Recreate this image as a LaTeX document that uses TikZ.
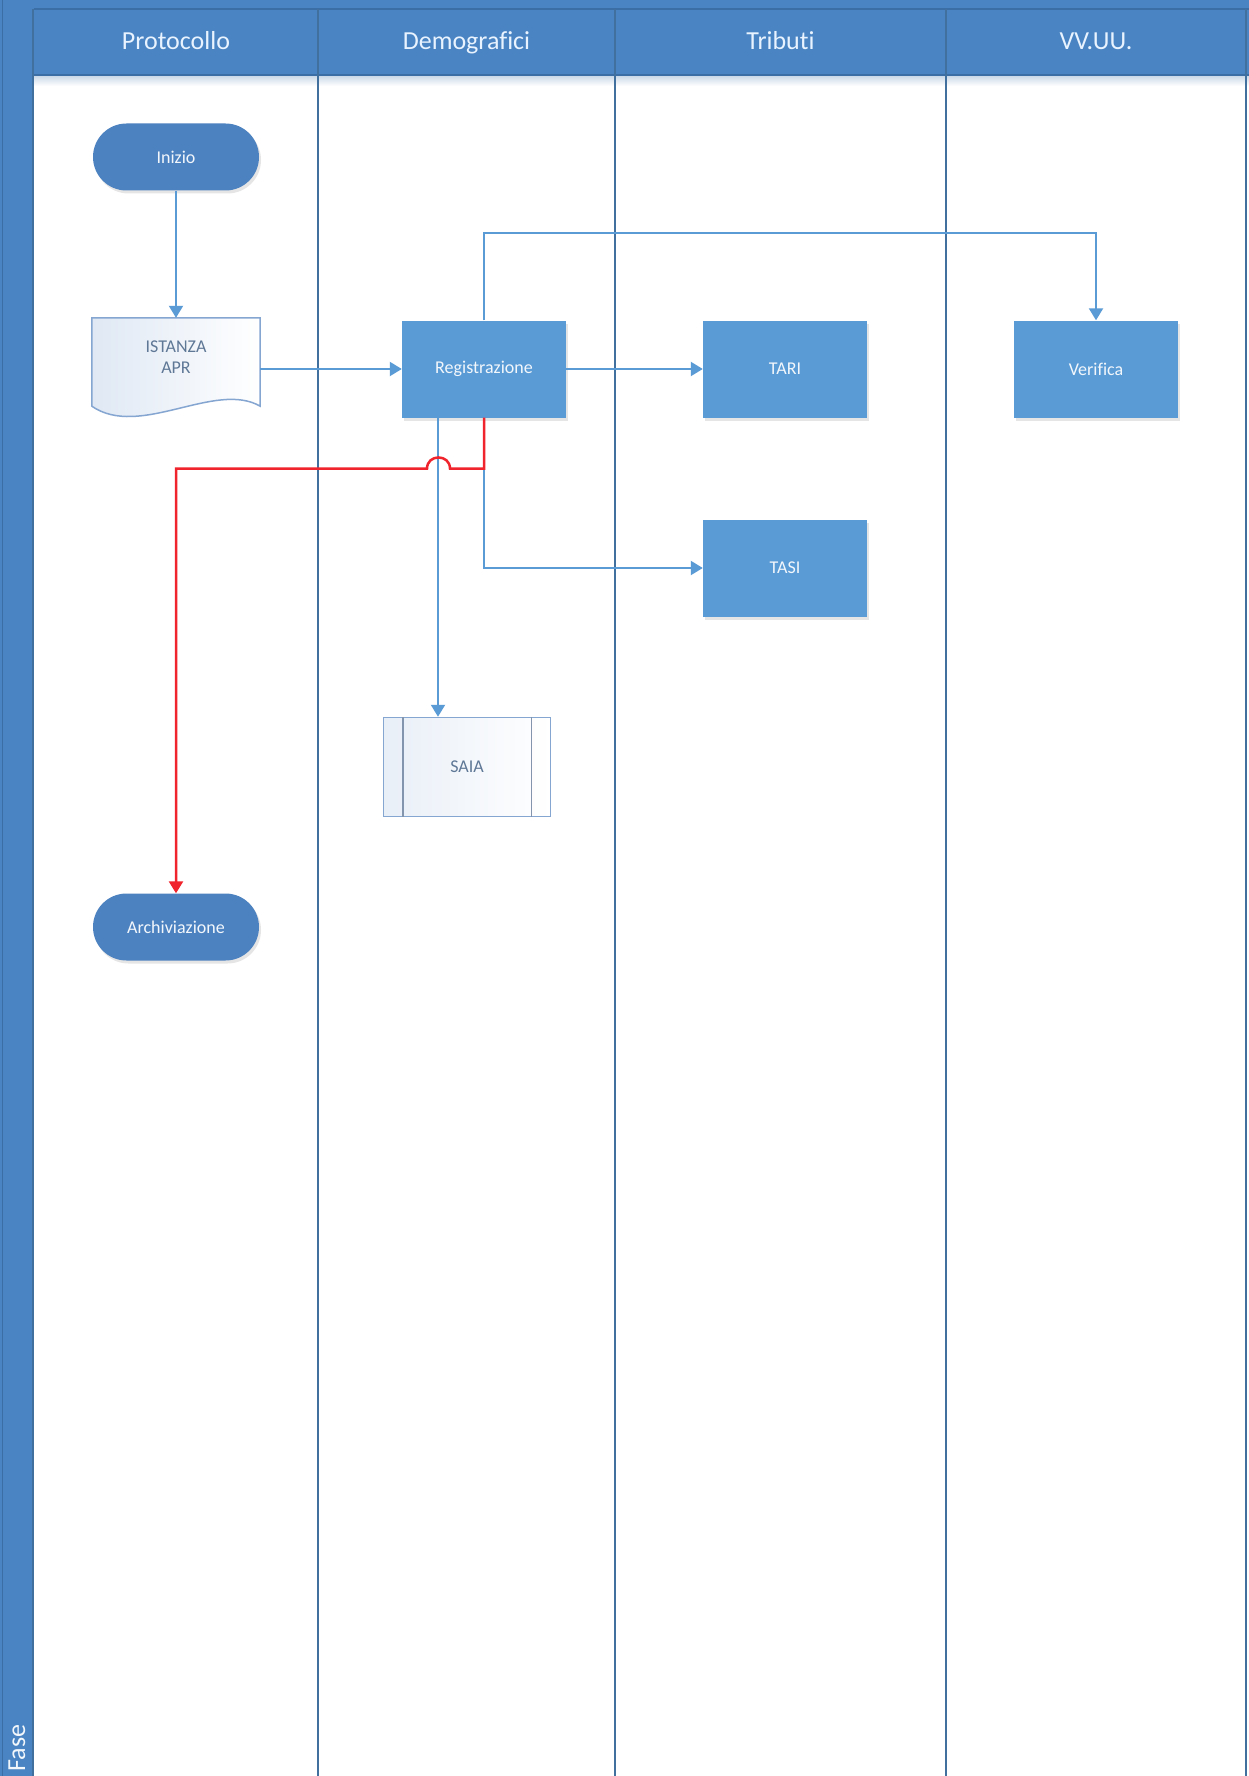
\documentclass[tikz,border=0pt]{standalone}
\usepackage{fontspec}
\setmainfont{Carlito}[Ligatures=NoCommon]
\usetikzlibrary{shapes.misc,arrows.meta,shadows,calc}
\definecolor{hdr}{HTML}{4A84C2}
\definecolor{hdrline}{HTML}{3C6EA6}
\definecolor{lane}{HTML}{41709F}
\definecolor{procfill}{HTML}{5B9BD5}
\definecolor{termfill}{HTML}{4D82C0}
\definecolor{conn}{HTML}{5B9BD5}
\definecolor{redconn}{HTML}{F0242C}
\definecolor{docfill}{HTML}{DFE8F4}
\definecolor{docline}{HTML}{86A6D2}
\definecolor{doctext}{HTML}{5F7896}
\definecolor{hdrtext}{HTML}{E8F3FF}
\definecolor{nodetext}{HTML}{F2F7FC}
\tikzset{
  hdrlabel/.style={text=hdrtext, font=\fontsize{26}{31}\selectfont, anchor=base},
  procbox/.style={rectangle, fill=procfill, minimum width=164pt, minimum height=97pt, inner sep=0pt,
    text=nodetext, font=\fontsize{18}{22}\selectfont,
    drop shadow={shadow xshift=2pt, shadow yshift=-3pt, opacity=0.2, fill=gray}},
  termbox/.style={rounded rectangle, fill=termfill, minimum width=166pt, minimum height=67pt, inner sep=0pt,
    text=nodetext, font=\fontsize{18}{22}\selectfont,
    drop shadow={shadow xshift=2pt, shadow yshift=-3pt, opacity=0.2, fill=gray}},
  docbox/.style={rectangle, minimum width=168pt, minimum height=88pt, inner sep=0pt, align=center,
    text=doctext, font=\fontsize{18}{21}\selectfont},
  subbox/.style={rectangle, draw=docline, line width=1.5pt, left color=docfill!70!white, right color=white,
    minimum width=167pt, minimum height=99pt, inner sep=0pt, text=doctext, font=\fontsize{18}{22}\selectfont},
  flow/.style={draw=conn, line width=2pt, -{Triangle[width=14pt,length=12pt]}},
  redflow/.style={draw=redconn, line width=2.5pt, -{Triangle[width=14pt,length=12pt]}},
  laneline/.style={draw=lane, line width=2.5pt}
}
\begin{document}
\begin{tikzpicture}[x=1pt,y=-1pt]
\useasboundingbox (0,0) rectangle (1249,1776);
\fill[white] (0,0) rectangle (1249,1776);
% header and side bar
\fill[hdr] (0,0) rectangle (1249,75);
\fill[hdr] (0,0) rectangle (34,1776);
\shade[top color=black!12!hdr!30!white, bottom color=white] (34,75) rectangle (1249,86);
\draw[hdrline, line width=1.5pt] (34,9) -- (1249,9);
\draw[hdrline, line width=1.5pt] (34,75) -- (1249,75);
\draw[hdrline, line width=1pt] (2,0) -- (2,1776);
% lane lines
\draw[laneline] (33,9) -- (33,1776);
\draw[laneline] (318,9) -- (318,1776);
\draw[laneline] (615,9) -- (615,1776);
\draw[laneline] (946,9) -- (946,1776);
\draw[laneline] (1246,9) -- (1246,1776);
% header labels
\node[hdrlabel] (h1) at (176,50) {Protocollo};
\node[hdrlabel] (h2) at (466.5,50) {Demografici};
\node[hdrlabel] (h3) at (780.5,50) {Tributi};
\node[hdrlabel] (h4) at (1096,50) {VV.UU.};
\node[text=nodetext, font=\fontsize{26}{31}\selectfont, rotate=90] (fase) at (17,1748) {Fase};
% nodes
\node[termbox] (inizio) at (176,157) {Inizio};
\node[docbox] (istanza) at (176,362) {};
\draw[docline, line width=1.5pt, left color=docfill, right color=white]
  (istanza.south west) -- (istanza.north west) -- (istanza.north east) -- (istanza.south east)
  .. controls +(-45,-26) and +(48,33) .. (istanza.south west) -- cycle;
\node[docbox, anchor=center] (istanzatxt) at (176,357) {ISTANZA\\APR};
\node[procbox] (reg) at (484,369) {Registrazione};
\node[procbox] (tari) at (785,369) {TARI};
\node[procbox] (verifica) at (1096,369) {Verifica};
\node[procbox] (tasi) at (785,568) {TASI};
\node[subbox] (saia) at (467,767) {SAIA};
\draw[draw=docline!55!gray, line width=1.5pt] ([xshift=20pt]saia.north west) -- ([xshift=20pt]saia.south west);
\draw[draw=docline!55!gray, line width=1.5pt] ([xshift=-20pt]saia.north east) -- ([xshift=-20pt]saia.south east);
\node[termbox] (archiv) at (176,927) {Archiviazione};
% connectors
\draw[flow] (inizio.south) -- (istanza.north);
\draw[flow] (istanza.east |- reg.west) -- (reg.west);
\draw[flow] (reg.east) -- (tari.west);
\draw[flow] (reg.north) -- ++(0,-87) -| (verifica.north);
\draw[flow] (reg.south) |- (tasi.west);
\draw[flow] ([xshift=-46pt]reg.south) -- ([xshift=-46pt]reg.south |- saia.north);
\coordinate (hopR) at ($(reg.south)+(-34,51)$);
\coordinate (hopL) at ($(reg.south)+(-57,51)$);
\draw[redflow] (reg.south) |- (hopR) .. controls +(0,-15) and +(0,-15) .. (hopL) -- (archiv.north |- hopL) -- (archiv.north);
\end{tikzpicture}
\end{document}
